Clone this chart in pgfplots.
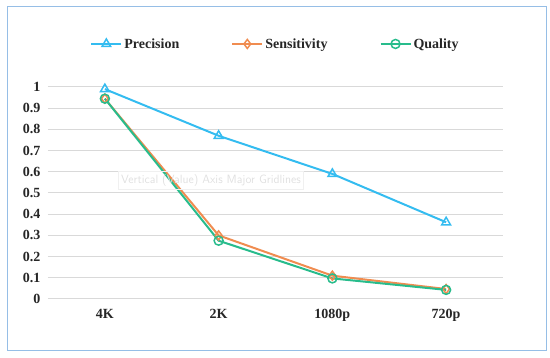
\documentclass[border=0pt]{standalone}
\usepackage{fontspec}
\setmainfont{Liberation Serif}
\usepackage{pgfplots}
\pgfplotsset{compat=1.18}
\definecolor{cprec}{RGB}{52,188,240}
\definecolor{csens}{RGB}{240,140,80}
\definecolor{cqual}{RGB}{40,188,140}
\definecolor{cgrid}{RGB}{217,217,217}
\definecolor{cframe}{RGB}{150,190,230}
\begin{document}
\begin{tikzpicture}[x=1pt,y=1pt]
\begin{axis}[
  name=ax,
  scale only axis,
  width=455pt, height=212pt,
  xmin=-0.5, xmax=3.5, ymin=0, ymax=1,
  xtick={0,1,2,3},
  xticklabels={4K,2K,1080p,720p},
  ytick={0,0.1,0.2,0.3,0.4,0.5,0.6,0.7,0.8,0.9,1},
  yticklabels={0,0.1,0.2,0.3,0.4,0.5,0.6,0.7,0.8,0.9,1},
  ymajorgrids,
  grid style={cgrid, line width=1pt},
  axis line style={draw=none},
  tick style={draw=none},
  clip=false,
  /pgf/number format/assume math mode=true,
  ticklabel style={font=\fontsize{14}{16}\selectfont\bfseries, text=black!85},
  yticklabel style={xshift=-4pt},
  xticklabel style={yshift=-7pt},
  legend style={at={(0.5,1.203)}, anchor=center, draw=none, fill=none,
    font=\fontsize{14}{16}\selectfont\bfseries, text=black!85,
    legend columns=3, /tikz/every even column/.append style={column sep=50pt},
    inner sep=0pt},
  legend image code/.code={\draw[mark repeat=2,mark phase=2] plot coordinates {(0pt,0pt) (15pt,0pt) (30pt,0pt)};},
  every axis plot/.append style={line width=2pt},
]
\addplot[cprec, mark=triangle, mark size=5pt, mark options={line width=1.5pt, fill=white}]
  coordinates {(0,0.99) (1,0.77) (2,0.59) (3,0.362)};
\addlegendentry{Precision}
\addplot[csens, mark=diamond, mark size=4.5pt, mark options={line width=1.5pt, fill=white}]
  coordinates {(0,0.945) (1,0.30) (2,0.11) (3,0.047)};
\addlegendentry{Sensitivity}
\addplot[cqual, mark=o, mark size=4.5pt, mark options={line width=1.5pt, fill=none}]
  coordinates {(0,0.945) (1,0.275) (2,0.097) (3,0.043)};
\addlegendentry{Quality}
\end{axis}
\node[draw=black!6, line width=1pt, text=black!12, font=\fontsize{12}{14}\selectfont\sffamily, inner sep=3pt]
  at ([shift={(163pt,118pt)}]ax.south west) {Vertical (Value) Axis Major Gridlines};
\draw[cframe, line width=1pt] ([shift={(-40pt,-52pt)}]ax.south west) rectangle ([shift={(498pt,292pt)}]ax.south west);
\pgfresetboundingbox
\path ([shift={(-48pt,-59pt)}]ax.south west) rectangle ([shift={(502pt,299pt)}]ax.south west);
\end{tikzpicture}
\end{document}
